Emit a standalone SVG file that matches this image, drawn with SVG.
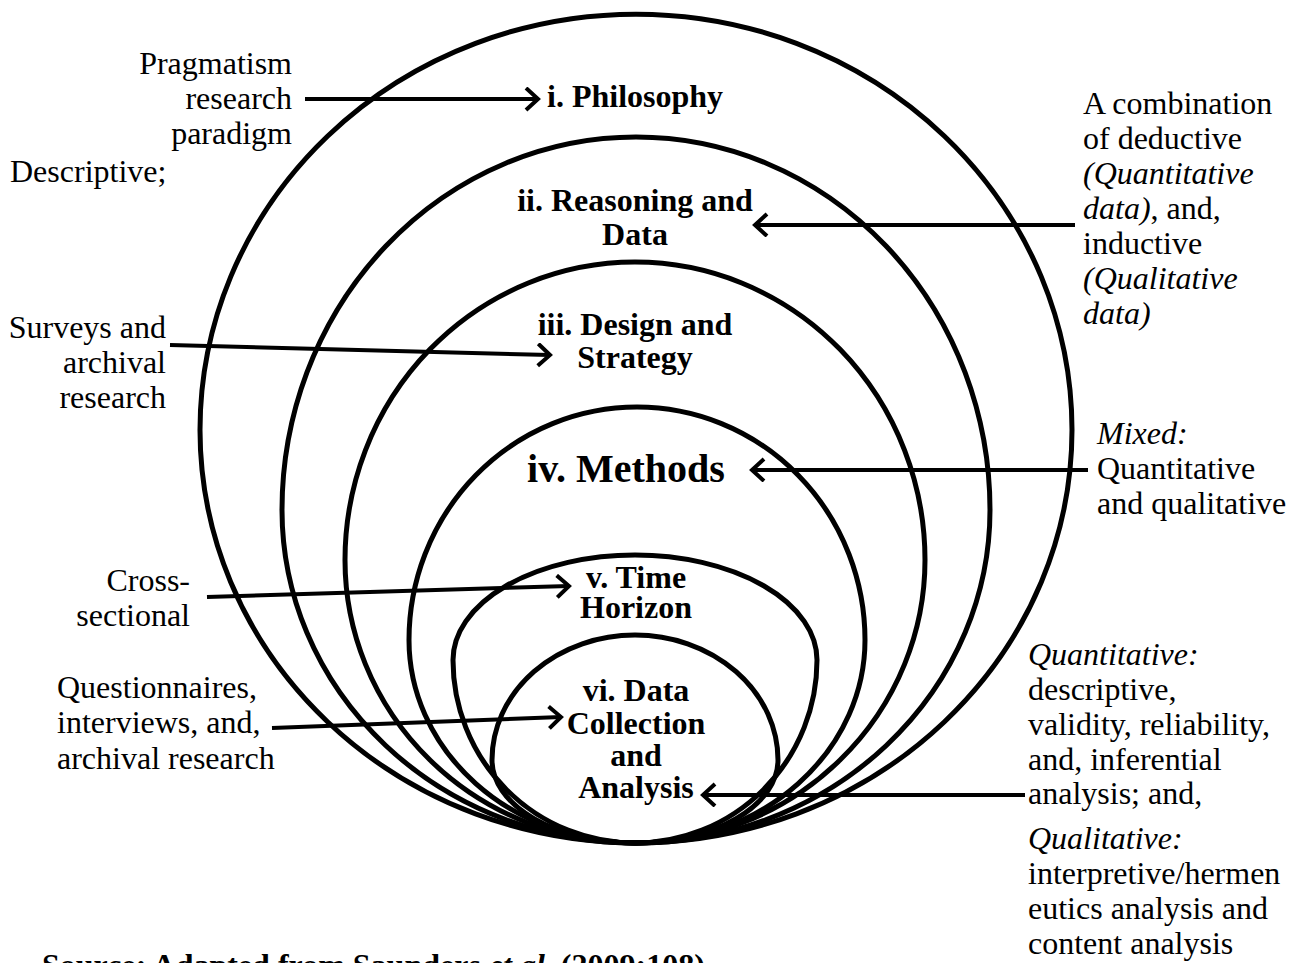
<svg xmlns="http://www.w3.org/2000/svg" width="1298" height="963" viewBox="0 0 1298 963">
  <style>
    .ring { fill: none; stroke: #000; stroke-width: 5; }
    .conn { fill: none; stroke: #000; stroke-width: 4; }
    .t { font-family: "Liberation Serif", "Times New Roman", serif; font-size: 32px; fill: #000; }
    .b { font-weight: bold; }
    .i { font-style: italic; }
    .mid { text-anchor: middle; }
    .end { text-anchor: end; }
  </style>
  <defs>
    <marker id="head" markerUnits="userSpaceOnUse" markerWidth="30" markerHeight="30" refX="14" refY="12" orient="auto">
      <polyline points="2,1 14,12 2,23" fill="none" stroke="#000" stroke-width="4"/>
    </marker>
  </defs>
  <rect width="1298" height="963" fill="#fff"/>

  <!-- nested layers, all meeting at the bottom point -->
  <g id="layer-philosophy">
    <path class="ring" d="M200,430 A436,416 0 0 1 1072,430 A436,413 0 0 1 200,430 Z"/>
    <text class="t b" x="547" y="107">i. Philosophy</text>
  </g>
  <g id="layer-reasoning">
    <path class="ring" d="M282,510 A354,373 0 0 1 990,510 A354,333 0 0 1 282,510 Z"/>
    <text class="t b mid" x="635" y="211">ii. Reasoning and</text>
    <text class="t b mid" x="635" y="245">Data</text>
  </g>
  <g id="layer-design">
    <path class="ring" d="M345,560 A290,298 0 0 1 925,560 A290,283 0 0 1 345,560 Z"/>
    <text class="t b mid" x="635" y="335">iii. Design and</text>
    <text class="t b mid" x="635" y="368">Strategy</text>
  </g>
  <g id="layer-methods">
    <path class="ring" d="M409,640 A228,233 0 0 1 865,640 A228,203 0 0 1 409,640 Z"/>
    <text class="t b mid" x="626" y="482" style="font-size:40px">iv. Methods</text>
  </g>
  <g id="layer-time">
    <path class="ring" d="M453,660 A182,105 0 0 1 817,660 A182,183 0 0 1 453,660 Z"/>
    <text class="t b mid" x="636" y="588">v. Time</text>
    <text class="t b mid" x="636" y="618">Horizon</text>
  </g>
  <g id="layer-data">
    <path class="ring" d="M492,760 A143,125 0 0 1 778,760 A143,83 0 0 1 492,760 Z"/>
    <text class="t b mid" x="636" y="701">vi. Data</text>
    <text class="t b mid" x="636" y="734">Collection</text>
    <text class="t b mid" x="636" y="766">and</text>
    <text class="t b mid" x="636" y="798">Analysis</text>
  </g>

  <!-- side notes -->
  <g id="note-philosophy">
    <text class="t end" x="292" y="74">Pragmatism</text>
    <text class="t end" x="292" y="109">research</text>
    <text class="t end" x="292" y="144">paradigm</text>
  </g>
  <g id="note-reasoning">
    <text class="t" x="1083" y="114">A combination</text>
    <text class="t" x="1083" y="149">of deductive</text>
    <text class="t i" x="1083" y="184">(Quantitative</text>
    <text class="t" x="1083" y="219"><tspan class="i">data)</tspan>, and,</text>
    <text class="t" x="1083" y="254">inductive</text>
    <text class="t i" x="1083" y="289">(Qualitative</text>
    <text class="t i" x="1083" y="324">data)</text>
  </g>
  <g id="note-design">
    <text class="t" x="10" y="182">Descriptive;</text>
    <text class="t end" x="166" y="338">Surveys and</text>
    <text class="t end" x="166" y="373">archival</text>
    <text class="t end" x="166" y="408">research</text>
  </g>
  <g id="note-methods">
    <text class="t i" x="1097" y="444">Mixed:</text>
    <text class="t" x="1097" y="479">Quantitative</text>
    <text class="t" x="1097" y="514">and qualitative</text>
  </g>
  <g id="note-time">
    <text class="t end" x="190" y="591">Cross-</text>
    <text class="t end" x="190" y="626">sectional</text>
  </g>
  <g id="note-data-in">
    <text class="t" x="57" y="698">Questionnaires,</text>
    <text class="t" x="57" y="733">interviews, and,</text>
    <text class="t" x="57" y="769">archival research</text>
  </g>
  <g id="note-data-out">
    <text class="t i" x="1028" y="665">Quantitative:</text>
    <text class="t" x="1028" y="700">descriptive,</text>
    <text class="t" x="1028" y="735">validity, reliability,</text>
    <text class="t" x="1028" y="770">and, inferential</text>
    <text class="t" x="1028" y="804">analysis; and,</text>
    <text class="t i" x="1028" y="849">Qualitative:</text>
    <text class="t" x="1028" y="884">interpretive/hermen</text>
    <text class="t" x="1028" y="919">eutics analysis and</text>
    <text class="t" x="1028" y="954">content analysis</text>
  </g>
  <g id="source">
    <text class="t b" x="42" y="976">Source: Adapted from Saunders <tspan class="i">et al.</tspan> (2009:108)</text>
  </g>

  <!-- connectors -->
  <g id="connectors">
    <line class="conn" x1="305" y1="99" x2="538" y2="99" marker-end="url(#head)"/>
    <line class="conn" x1="1075" y1="225" x2="755" y2="225" marker-end="url(#head)"/>
    <line class="conn" x1="170" y1="345" x2="550" y2="355" marker-end="url(#head)"/>
    <line class="conn" x1="1088" y1="470" x2="752" y2="470" marker-end="url(#head)"/>
    <line class="conn" x1="207" y1="597" x2="569" y2="586" marker-end="url(#head)"/>
    <line class="conn" x1="272" y1="728" x2="561" y2="717" marker-end="url(#head)"/>
    <line class="conn" x1="1025" y1="795" x2="703" y2="795" marker-end="url(#head)"/>
  </g>
</svg>
